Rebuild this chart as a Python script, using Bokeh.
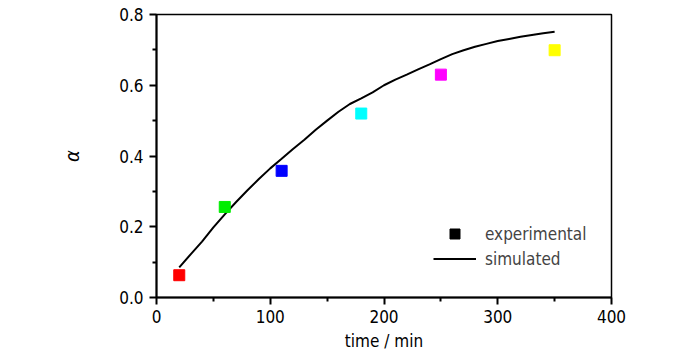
from bokeh.plotting import figure
from bokeh.models import ColumnDataSource, FixedTicker, PrintfTickFormatter, Legend, LegendItem
from bokeh.embed import file_html
from bokeh.resources import INLINE

# experimental points
exp_t = [20, 60, 110, 180, 250, 350]
exp_alpha = [0.063, 0.256, 0.358, 0.520, 0.630, 0.699]
exp_colors = ["#ff0000", "#00ee00", "#0000ff", "#00ffff", "#ff00ff", "#ffff00"]

# simulated curve
sim_t = [20, 30, 40, 50, 60, 70, 80, 90, 100, 110, 120, 130, 140, 150, 160, 170, 180,
         190, 200, 210, 220, 230, 240, 250, 260, 270, 280, 290, 300, 310, 320, 330, 340, 350]
sim_alpha = [0.085, 0.122, 0.158, 0.198, 0.235, 0.270, 0.303, 0.335, 0.365, 0.392, 0.420,
             0.446, 0.474, 0.500, 0.525, 0.547, 0.563, 0.580, 0.600, 0.616, 0.630, 0.645,
             0.659, 0.674, 0.688, 0.699, 0.709, 0.717, 0.725, 0.731, 0.737, 0.742, 0.747, 0.751]

x_ticks = [0, 100, 200, 300, 400]
x_minor = [50, 150, 250, 350]
y_ticks = [0.0, 0.2, 0.4, 0.6, 0.8]
y_minor = [0.1, 0.3, 0.5, 0.7]

FONT = "'DejaVu Sans Condensed', 'Liberation Sans', sans-serif"

p = figure(frame_width=455, frame_height=283, x_range=(0, 400), y_range=(0, 0.8),
           output_backend="svg", toolbar_location=None,
           min_border_left=156, min_border_top=14, min_border_right=75, min_border_bottom=56)
p.xgrid.visible = False
p.ygrid.visible = False
p.outline_line_color = "black"
p.outline_line_width = 1.5
p.background_fill_color = "white"
p.border_fill_color = "white"

for ax in (p.xaxis[0], p.yaxis[0]):
    ax.axis_line_width = 2
    ax.axis_line_color = "black"
    ax.major_tick_line_width = 2
    ax.minor_tick_line_width = 2
    ax.major_tick_in = 0
    ax.major_tick_out = 7
    ax.minor_tick_in = 0
    ax.minor_tick_out = 4
    ax.major_label_text_font = FONT
    ax.major_label_text_font_size = "17px"
    ax.major_label_text_color = "black"
    ax.axis_label_text_font = FONT
    ax.axis_label_text_font_size = "17px"
    ax.axis_label_text_font_style = "normal"
    ax.axis_label_text_color = "black"

p.xaxis.ticker = FixedTicker(ticks=x_ticks, minor_ticks=x_minor)
p.yaxis.ticker = FixedTicker(ticks=y_ticks, minor_ticks=y_minor)
p.yaxis.formatter = PrintfTickFormatter(format="%.1f")
p.xaxis.formatter = PrintfTickFormatter(format="%d")
p.xaxis.axis_label = "time / min"
p.yaxis.axis_label = "α"
p.yaxis.axis_label_text_font_size = "20px"
p.yaxis.axis_label_text_font_style = "italic"
p.xaxis.major_label_standoff = 5
p.yaxis.major_label_standoff = 6
p.xaxis.axis_label_standoff = 5
p.yaxis.axis_label_standoff = 32

line_r = p.line(sim_t, sim_alpha, line_color="black", line_width=2)
src = ColumnDataSource(dict(x=exp_t, y=exp_alpha, c=exp_colors))
p.scatter("x", "y", source=src, marker="square", size=11, fill_color="c", line_color="c")

legend_sq = p.scatter(x=[exp_t[0]], y=[float("nan")], marker="square", size=15,
                      fill_color="black", line_color="black")

legend = Legend(items=[LegendItem(label="experimental", renderers=[legend_sq]),
                       LegendItem(label="simulated", renderers=[line_r])],
                location=(277, 26), padding=0, margin=0, spacing=0,
                glyph_width=43, glyph_height=25, label_height=25, label_standoff=9,
                label_text_font=FONT, label_text_font_size="17px",
                border_line_color=None, background_fill_alpha=0)
p.add_layout(legend)

open("out.html", "w").write(file_html(p, INLINE))
